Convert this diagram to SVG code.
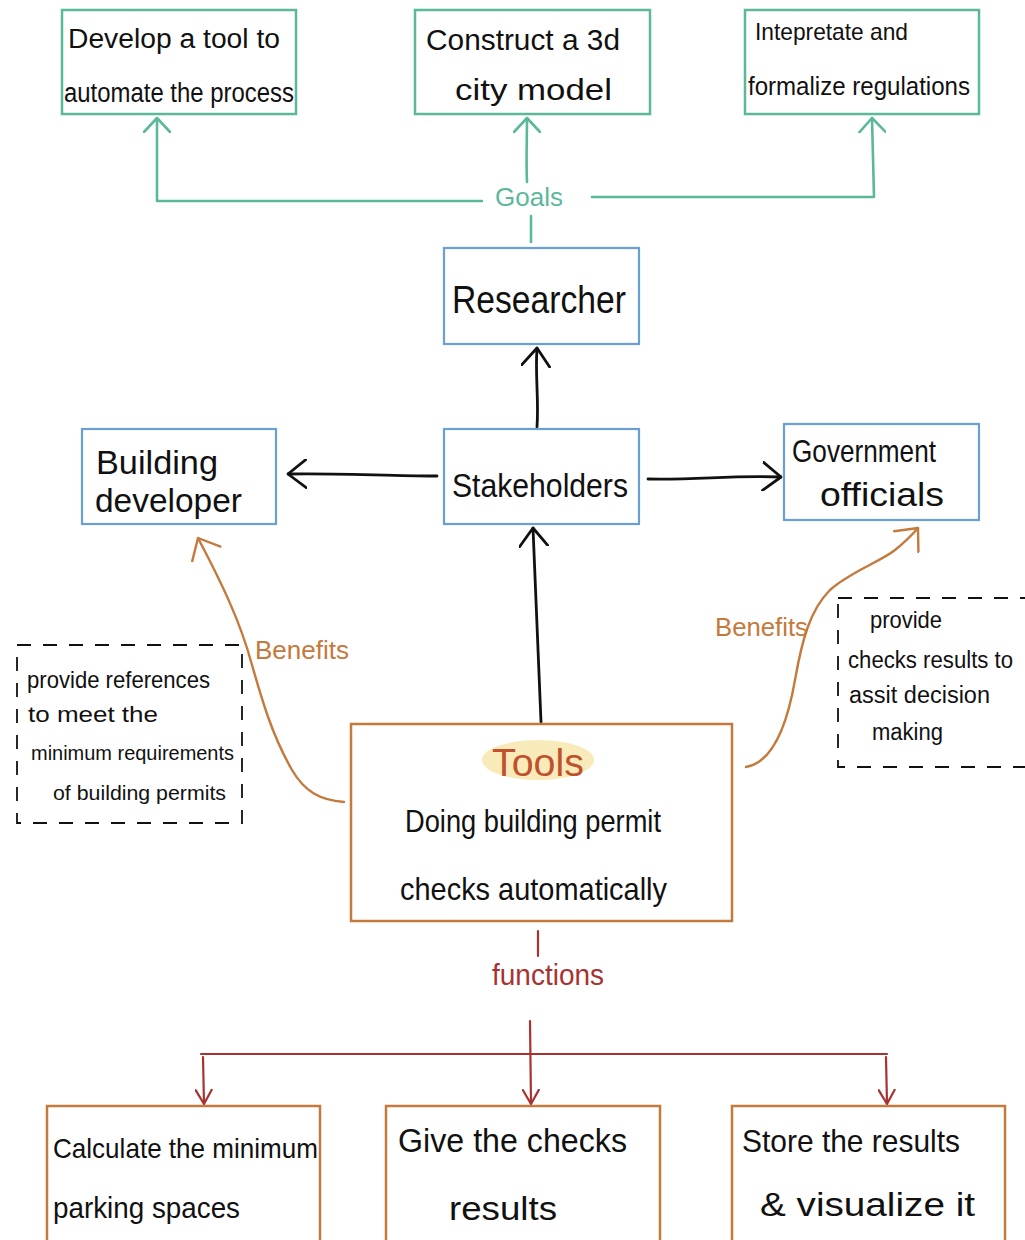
<svg xmlns="http://www.w3.org/2000/svg" width="1025" height="1240" viewBox="0 0 1025 1240">
  <style>
    .t { font-family: "Liberation Sans", "DejaVu Sans", sans-serif; fill: #111; }
    .goal { fill: #fff; stroke: #5cb89b; stroke-width: 2.5; }
    .actor { fill: #fff; stroke: #6a9fd4; stroke-width: 2.2; }
    .tool { fill: #fff; stroke: #c47a3d; stroke-width: 2.5; }
    .note { fill: none; stroke: #111; stroke-width: 1.8; stroke-dasharray: 14 12; }
    .c-teal { fill: none; stroke: #5cb89b; stroke-width: 2.6; stroke-linecap: round; stroke-linejoin: round; }
    .c-black { fill: none; stroke: #111; stroke-width: 2.8; stroke-linecap: round; stroke-linejoin: round; }
    .c-orange { fill: none; stroke: #c47a3d; stroke-width: 2.4; stroke-linecap: round; stroke-linejoin: round; }
    .c-red { fill: none; stroke: #a83232; stroke-width: 2.2; stroke-linecap: round; stroke-linejoin: round; }
  </style>
  <defs>
    <marker id="ah-teal" viewBox="0 0 16 28" markerWidth="16" markerHeight="28" refX="15" refY="14" orient="auto" markerUnits="userSpaceOnUse">
      <path d="M1,1 L15,14 L1,27" fill="none" stroke="#5cb89b" stroke-width="2.6" stroke-linecap="round" stroke-linejoin="round"/>
    </marker>
    <marker id="ah-black" viewBox="0 0 20 30" markerWidth="20" markerHeight="30" refX="19" refY="15" orient="auto" markerUnits="userSpaceOnUse">
      <path d="M1,1 L19,15 L1,29" fill="none" stroke="#111" stroke-width="2.8" stroke-linecap="round" stroke-linejoin="round"/>
    </marker>
    <marker id="ah-orange" viewBox="0 0 20 34" markerWidth="20" markerHeight="34" refX="19" refY="17" orient="auto" markerUnits="userSpaceOnUse">
      <path d="M1,1 L19,17 L1,33" fill="none" stroke="#c47a3d" stroke-width="2.4" stroke-linecap="round" stroke-linejoin="round"/>
    </marker>
    <marker id="ah-red" viewBox="0 0 16 18" markerWidth="16" markerHeight="18" refX="15" refY="9" orient="auto" markerUnits="userSpaceOnUse">
      <path d="M1,1 L15,9 L1,17" fill="none" stroke="#a83232" stroke-width="2.2" stroke-linecap="round" stroke-linejoin="round"/>
    </marker>
  </defs>

  <rect width="1025" height="1240" fill="#fff"/>

  <!-- connectors -->
  <g id="connectors">
    <!-- goals branch (teal) -->
    <path class="c-teal" d="M531,242 L531,216"/>
    <path class="c-teal" d="M482,201 L157,201 L157,118" marker-end="url(#ah-teal)"/>
    <path class="c-teal" d="M527,182 C526,160 527,140 527,118" marker-end="url(#ah-teal)"/>
    <path class="c-teal" d="M592,197 L874,197 L872,118" marker-end="url(#ah-teal)"/>
    <!-- stakeholder links (black) -->
    <path class="c-black" d="M537,427 C539,400 535,375 537,348" marker-end="url(#ah-black)"/>
    <path class="c-black" d="M437,476 C400,476 340,473 288,474" marker-end="url(#ah-black)"/>
    <path class="c-black" d="M648,479 C700,480 730,475 781,477" marker-end="url(#ah-black)"/>
    <path class="c-black" d="M541,722 L533,528" marker-end="url(#ah-black)"/>
    <!-- benefits (orange) -->
    <path class="c-orange" d="M344,802 C320,800 305,792 292,770 C272,735 262,700 252,665 C240,620 220,580 198,538" marker-end="url(#ah-orange)"/>
    <path class="c-orange" d="M746,767 C775,762 788,720 795,680 C802,640 810,610 830,590 C850,572 880,562 895,550 C905,542 912,535 918,528" marker-end="url(#ah-orange)"/>
    <!-- functions (red) -->
    <path class="c-red" d="M538,931 L538,956"/>
    <path class="c-red" d="M530,1021 L531,1104" marker-end="url(#ah-red)"/>
    <path class="c-red" d="M201,1054 L887,1054"/>
    <path class="c-red" d="M203,1057 L204,1104" marker-end="url(#ah-red)"/>
    <path class="c-red" d="M886,1057 L887,1104" marker-end="url(#ah-red)"/>
  </g>

  <!-- goals -->
  <g id="goal-automate">
    <rect class="goal" x="62" y="10" width="234" height="104"/>
    <text class="t" x="68" y="48" font-size="27" textLength="212" lengthAdjust="spacingAndGlyphs">Develop a tool to</text>
    <text class="t" x="64" y="102" font-size="27" textLength="230" lengthAdjust="spacingAndGlyphs">automate the process</text>
  </g>
  <g id="goal-city-model">
    <rect class="goal" x="415" y="10" width="235" height="104"/>
    <text class="t" x="426" y="50" font-size="29" textLength="194" lengthAdjust="spacingAndGlyphs">Construct a 3d</text>
    <text class="t" x="455" y="100" font-size="29" textLength="157" lengthAdjust="spacingAndGlyphs">city model</text>
  </g>
  <g id="goal-regulations">
    <rect class="goal" x="745" y="10" width="234" height="104"/>
    <text class="t" x="755" y="40" font-size="24" textLength="153" lengthAdjust="spacingAndGlyphs">Intepretate and</text>
    <text class="t" x="748" y="95" font-size="26" textLength="222" lengthAdjust="spacingAndGlyphs">formalize regulations</text>
  </g>
  <g id="label-goals">
    <text x="529" y="206" font-size="26" text-anchor="middle" font-family="Liberation Sans, sans-serif" fill="#5cb89b">Goals</text>
  </g>

  <!-- actors -->
  <g id="researcher">
    <rect class="actor" x="444" y="248" width="195" height="96"/>
    <text class="t" x="452" y="313" font-size="38" textLength="174" lengthAdjust="spacingAndGlyphs">Researcher</text>
  </g>
  <g id="stakeholders">
    <rect class="actor" x="444" y="429" width="195" height="95"/>
    <text class="t" x="452" y="497" font-size="34" textLength="176" lengthAdjust="spacingAndGlyphs">Stakeholders</text>
  </g>
  <g id="building-developer">
    <rect class="actor" x="82" y="429" width="194" height="95"/>
    <text class="t" x="96" y="474" font-size="34" textLength="122" lengthAdjust="spacingAndGlyphs">Building</text>
    <text class="t" x="95" y="512" font-size="34" textLength="147" lengthAdjust="spacingAndGlyphs">developer</text>
  </g>
  <g id="government-officials">
    <rect class="actor" x="784" y="424" width="195" height="96"/>
    <text class="t" x="792" y="462" font-size="32" textLength="144" lengthAdjust="spacingAndGlyphs">Government</text>
    <text class="t" x="820" y="506" font-size="34" textLength="124" lengthAdjust="spacingAndGlyphs">officials</text>
  </g>

  <!-- benefit labels -->
  <g id="label-benefits-left">
    <text x="255" y="659" font-size="26" font-family="Liberation Sans, sans-serif" fill="#c47a3d" textLength="94" lengthAdjust="spacingAndGlyphs">Benefits</text>
  </g>
  <g id="label-benefits-right">
    <text x="715" y="636" font-size="26" font-family="Liberation Sans, sans-serif" fill="#c47a3d" textLength="93" lengthAdjust="spacingAndGlyphs">Benefits</text>
  </g>

  <!-- notes -->
  <g id="note-developer">
    <rect class="note" x="17" y="645" width="225" height="178"/>
    <text class="t" x="27" y="688" font-size="24" textLength="183" lengthAdjust="spacingAndGlyphs">provide references</text>
    <text class="t" x="28" y="722" font-size="22" textLength="130" lengthAdjust="spacingAndGlyphs">to meet the</text>
    <text class="t" x="31" y="760" font-size="20" textLength="203" lengthAdjust="spacingAndGlyphs">minimum requirements</text>
    <text class="t" x="53" y="800" font-size="20" textLength="173" lengthAdjust="spacingAndGlyphs">of building permits</text>
  </g>
  <g id="note-government">
    <rect class="note" x="838" y="598" width="192" height="169"/>
    <text class="t" x="870" y="628" font-size="24" textLength="72" lengthAdjust="spacingAndGlyphs">provide</text>
    <text class="t" x="848" y="668" font-size="23" textLength="165" lengthAdjust="spacingAndGlyphs">checks results to</text>
    <text class="t" x="849" y="703" font-size="23" textLength="141" lengthAdjust="spacingAndGlyphs">assit decision</text>
    <text class="t" x="872" y="740" font-size="23" textLength="71" lengthAdjust="spacingAndGlyphs">making</text>
  </g>

  <!-- tools -->
  <g id="tools">
    <rect class="tool" x="351" y="724" width="381" height="197"/>
    <ellipse cx="538" cy="760" rx="56" ry="20" fill="#f7e7ad" opacity="0.85"/>
    <text x="538" y="776" font-size="38" text-anchor="middle" font-family="Liberation Sans, sans-serif" fill="#c0502e" textLength="92" lengthAdjust="spacingAndGlyphs">Tools</text>
    <text class="t" x="405" y="832" font-size="32" textLength="256" lengthAdjust="spacingAndGlyphs">Doing building permit</text>
    <text class="t" x="400" y="900" font-size="32" textLength="267" lengthAdjust="spacingAndGlyphs">checks automatically</text>
  </g>
  <g id="label-functions">
    <text x="492" y="985" font-size="30" font-family="Liberation Sans, sans-serif" fill="#a83232" textLength="112" lengthAdjust="spacingAndGlyphs">functions</text>
  </g>

  <!-- functions -->
  <g id="fn-parking">
    <rect class="tool" x="47" y="1106" width="273" height="140"/>
    <text class="t" x="53" y="1158" font-size="28" textLength="265" lengthAdjust="spacingAndGlyphs">Calculate the minimum</text>
    <text class="t" x="53" y="1218" font-size="30" textLength="187" lengthAdjust="spacingAndGlyphs">parking spaces</text>
  </g>
  <g id="fn-results">
    <rect class="tool" x="386" y="1106" width="274" height="140"/>
    <text class="t" x="398" y="1152" font-size="34" textLength="229" lengthAdjust="spacingAndGlyphs">Give the checks</text>
    <text class="t" x="449" y="1220" font-size="34" textLength="108" lengthAdjust="spacingAndGlyphs">results</text>
  </g>
  <g id="fn-store">
    <rect class="tool" x="732" y="1106" width="273" height="140"/>
    <text class="t" x="742" y="1152" font-size="32" textLength="218" lengthAdjust="spacingAndGlyphs">Store the results</text>
    <text class="t" x="760" y="1216" font-size="34" textLength="215" lengthAdjust="spacingAndGlyphs">&amp; visualize it</text>
  </g>
</svg>
